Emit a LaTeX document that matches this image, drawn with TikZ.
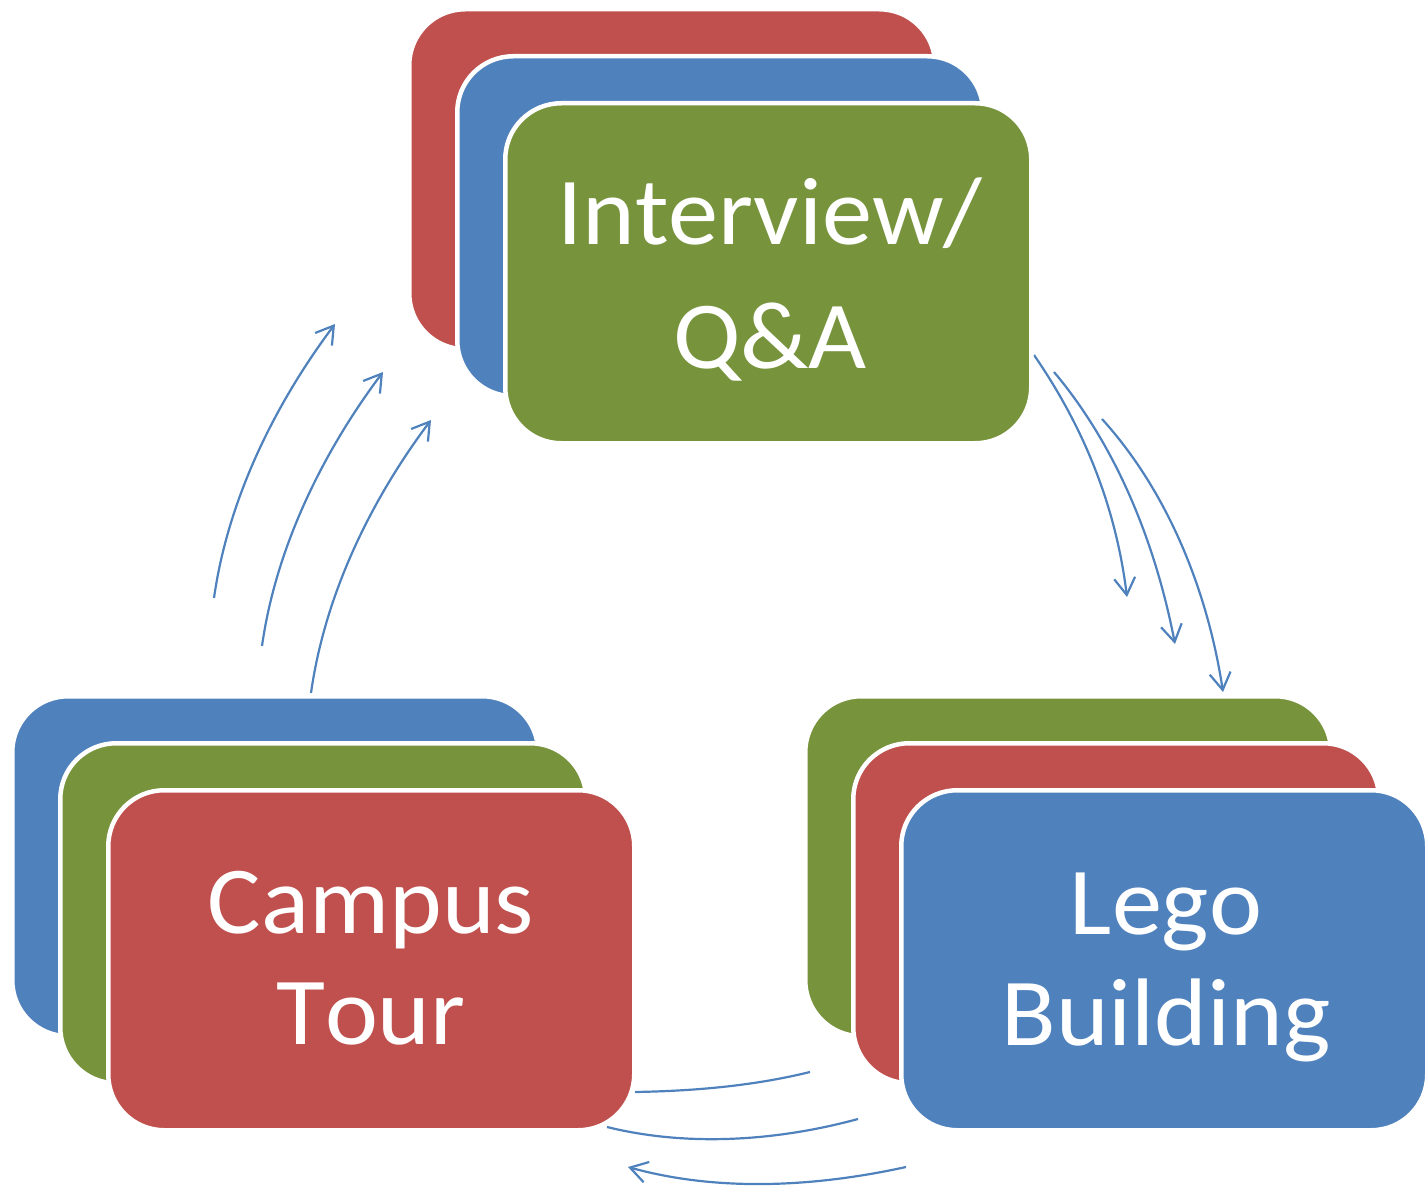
\documentclass[tikz,border=0pt]{standalone}
\usepackage{fontspec}
\setmainfont{Carlito}[Kerning=Off,FakeStretch=1.045]
\usetikzlibrary{arrows.meta}
\definecolor{cardred}{HTML}{C0504D}
\definecolor{cardblue}{HTML}{4F81BD}
\definecolor{cardgreen}{HTML}{77933C}
\begin{document}
\begin{tikzpicture}[x=1pt,y=-1pt,
  card/.style={draw=white, line width=4.5pt, rounded corners=56pt,
    minimum width=526pt, minimum height=340pt, inner sep=0pt,
    anchor=north west},
  cardtext/.style={text=white, align=center, inner sep=0pt},
  cycline/.style={draw=cardblue, line width=2.2pt},
  cycarrow/.style={cycline, -{Straight Barb[length=17pt,width=21pt]}}]
\useasboundingbox (0,0) rectangle (1428,1190);

% end points of the cycle arcs
\coordinate (r1s) at (1034,355);  \coordinate (r1e) at (1127,597);
\coordinate (r2s) at (1054,372);  \coordinate (r2e) at (1175,644);
\coordinate (r3s) at (1102,419);  \coordinate (r3e) at (1223,692);
\coordinate (l1s) at (214,598);   \coordinate (l1e) at (335,324);
\coordinate (l2s) at (262,646);   \coordinate (l2e) at (383,372);
\coordinate (l3s) at (311,693);   \coordinate (l3e) at (431,420);
\coordinate (b1s) at (810,1072);  \coordinate (b1e) at (635,1092);
\coordinate (b2s) at (858,1119);  \coordinate (b2e) at (607,1127);
\coordinate (b3s) at (906,1167);  \coordinate (b3e) at (628,1167);

% interview -> lego
\draw[cycarrow] (r1s) .. controls (1085,429) and (1116,508) .. (r1e);
\draw[cycarrow] (r2s) .. controls (1118,448) and (1156,546) .. (r2e);
\draw[cycarrow] (r3s) .. controls (1169,493) and (1208,593) .. (r3e);
% campus -> interview
\draw[cycarrow] (l1s) .. controls (228,499) and (275,404) .. (l1e);
\draw[cycarrow] (l2s) .. controls (276,547) and (323,452) .. (l2e);
\draw[cycarrow] (l3s) .. controls (325,594) and (371,500) .. (l3e);
% lego -> campus
\draw[cycline]  (b1s) .. controls (753,1086) and (694,1091) .. (b1e);
\draw[cycline]  (b2s) .. controls (777,1141) and (688,1147) .. (b2e);
\draw[cycarrow] (b3s) .. controls (815,1187) and (718,1192) .. (b3e);

% top stack
\node[card, fill=cardred]   (qa1) at (407,7)   {};
\node[card, fill=cardblue]  (qa2) at (455,54)  {};
\node[card, fill=cardgreen] (qa3) at (503,101) {};
% bottom-left stack
\node[card, fill=cardblue]  (ct1) at (10,694)  {};
\node[card, fill=cardgreen] (ct2) at (58,741)  {};
\node[card, fill=cardred]   (ct3) at (106,788) {};
% bottom-right stack
\node[card, fill=cardgreen] (lb1) at (803,694) {};
\node[card, fill=cardred]   (lb2) at (851,741) {};
\node[card, fill=cardblue]  (lb3) at (899,788) {};

% labels
\node[cardtext, font=\fontsize{96}{124}\selectfont] (qat) at (770,280) {Interview/\\Q\&A};
\node[cardtext, font=\fontsize{96}{111}\selectfont] (ctt) at (371,958) {Campus\\Tour};
\node[cardtext, font=\fontsize{96}{111}\selectfont] (lbt) at (1166,967) {Lego\\Building};
\end{tikzpicture}
\end{document}
